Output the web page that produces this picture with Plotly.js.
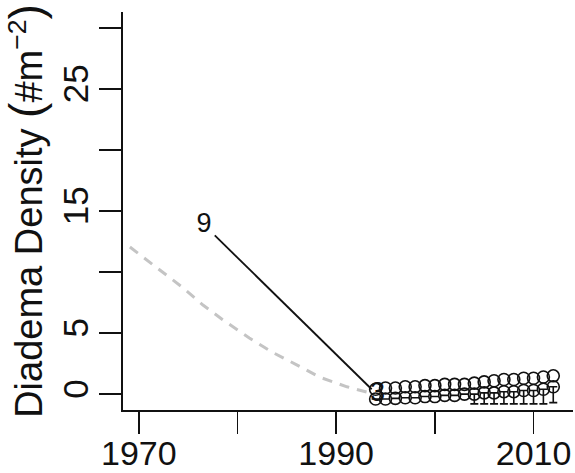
<!DOCTYPE html>
<html>
<head>
<meta charset="utf-8">
<script src="https://cdn.plot.ly/plotly-3.0.1.min.js"></script>
<style>html,body{margin:0;padding:0;background:#fff;}#chart{width:575px;height:473px;}</style>
</head>
<body>
<div id="chart"></div>
<script>
// Historical (dashed grey) decline
var histYears = [1969.1, 1972.1, 1974.5, 1976.5, 1978.5, 1981.2, 1983.6, 1986.0, 1988.3, 1991.1, 1993.4];
var histDensity = [12.05, 10.2, 8.7, 7.3, 6.1, 4.6, 3.4, 2.4, 1.4, 0.6, 0.1];

// Black line between labelled site counts
var lineYears = [1977.7, 1993.6];
var lineDensity = [13.0, 0.4];
var labelYears = [1976.6, 1994.2];
var labelDensity = [13.85, 0.0];
var labelText = ["9", "3"];

// Survey years
var surveyYears = [1994,1995,1996,1997,1998,1999,2000,2001,2002,2003,2004,2005,2006,2007,2008,2009,2010,2011,2012];
var upperDensity = [0.4,0.5,0.5,0.6,0.6,0.7,0.7,0.8,0.8,0.8,0.9,1.0,1.1,1.2,1.2,1.3,1.3,1.4,1.5];
var lowerDensity = [-0.4,-0.4,-0.35,-0.3,-0.3,-0.2,-0.2,-0.1,-0.1,0.0,0.0,0.1,0.1,0.2,0.2,0.3,0.3,0.4,0.6];
var lowerErrMinus = [0,0,0,0,0,0,0,0,0,0,0.8,0.9,0.9,1.0,1.0,1.1,1.1,1.2,1.3];
var lowerErrPlus = [0,0,0,0,0,0,0,0,0,0,0,0,0,0,0,0,0,0,0];

var xTickVals = [1970,1990,2010];
var xTickText = ["1970","1990","2010"];
var xMinorTicks = [1980,2000];
var yTickVals = [0,5,15,25];
var yTickText = ["0","5","15","25"];
var yMinorTicks = [10,20,30];

var FONT = "Liberation Sans, Arial, Helvetica, sans-serif";

var traces = [
  {x: histYears, y: histDensity, mode: "lines", type: "scatter",
   line: {color: "#c4c4c4", width: 3, dash: "10px,8px"}, hoverinfo: "none"},
  {x: lineYears, y: lineDensity, mode: "lines", type: "scatter",
   line: {color: "#111", width: 1.8}, hoverinfo: "none"},
  {x: surveyYears, y: lowerDensity, mode: "markers", type: "scatter",
   marker: {symbol: "circle-open", size: 12, color: "#111", line: {width: 1.6, color: "#111"}},
   error_y: {type: "data", symmetric: false, array: lowerErrPlus, arrayminus: lowerErrMinus,
             color: "#111", thickness: 1.6, width: 4}, hoverinfo: "none"},
  {x: surveyYears, y: upperDensity, mode: "markers", type: "scatter",
   marker: {symbol: "circle-open", size: 12, color: "#111", line: {width: 1.6, color: "#111"}}, hoverinfo: "none"},
  {x: labelYears, y: labelDensity, mode: "text", type: "scatter",
   text: labelText, textposition: "middle center",
   textfont: {family: FONT, size: 27, color: "#111"}, hoverinfo: "none"}
];

var layout = {
  width: 575, height: 473,
  margin: {l: 123, r: 2, t: 12, b: 63},
  paper_bgcolor: "#fff", plot_bgcolor: "#fff",
  showlegend: false,
  font: {family: FONT, color: "#111"},
  xaxis: {
    range: [1968.4, 2014.0], tickmode: "array", tickvals: xTickVals, ticktext: xTickText,
    ticks: "outside", ticklen: 22, tickwidth: 1.6, tickcolor: "#111", ticklabelstandoff: -10,
    minor: {tickmode: "array", tickvals: xMinorTicks, ticks: "outside", ticklen: 22, tickwidth: 1.6, tickcolor: "#111", showgrid: false},
    showline: true, linecolor: "#111", linewidth: 1.8, showgrid: false, zeroline: false,
    tickfont: {family: FONT, size: 34, color: "#111"}
  },
  yaxis: {
    range: [-1.3, 31.3], tickmode: "array", tickvals: yTickVals, ticktext: yTickText,
    ticks: "outside", ticklen: 22, tickwidth: 1.6, tickcolor: "#111", tickangle: -90, ticklabelstandoff: -3,
    minor: {tickmode: "array", tickvals: yMinorTicks, ticks: "outside", ticklen: 22, tickwidth: 1.6, tickcolor: "#111", showgrid: false},
    showline: true, linecolor: "#111", linewidth: 1.8, showgrid: false, zeroline: false,
    tickfont: {family: FONT, size: 35, color: "#111"},
    title: {text: "Diadema Density <span style=\"font-size:46px\">(</span>#m<sup>−2</sup><span style=\"font-size:46px\">)</span>",
            font: {family: FONT, size: 38, color: "#111"}, standoff: 5}
  }
};

Plotly.newPlot("chart", traces, layout, {staticPlot: true, displayModeBar: false});
</script>
</body>
</html>
